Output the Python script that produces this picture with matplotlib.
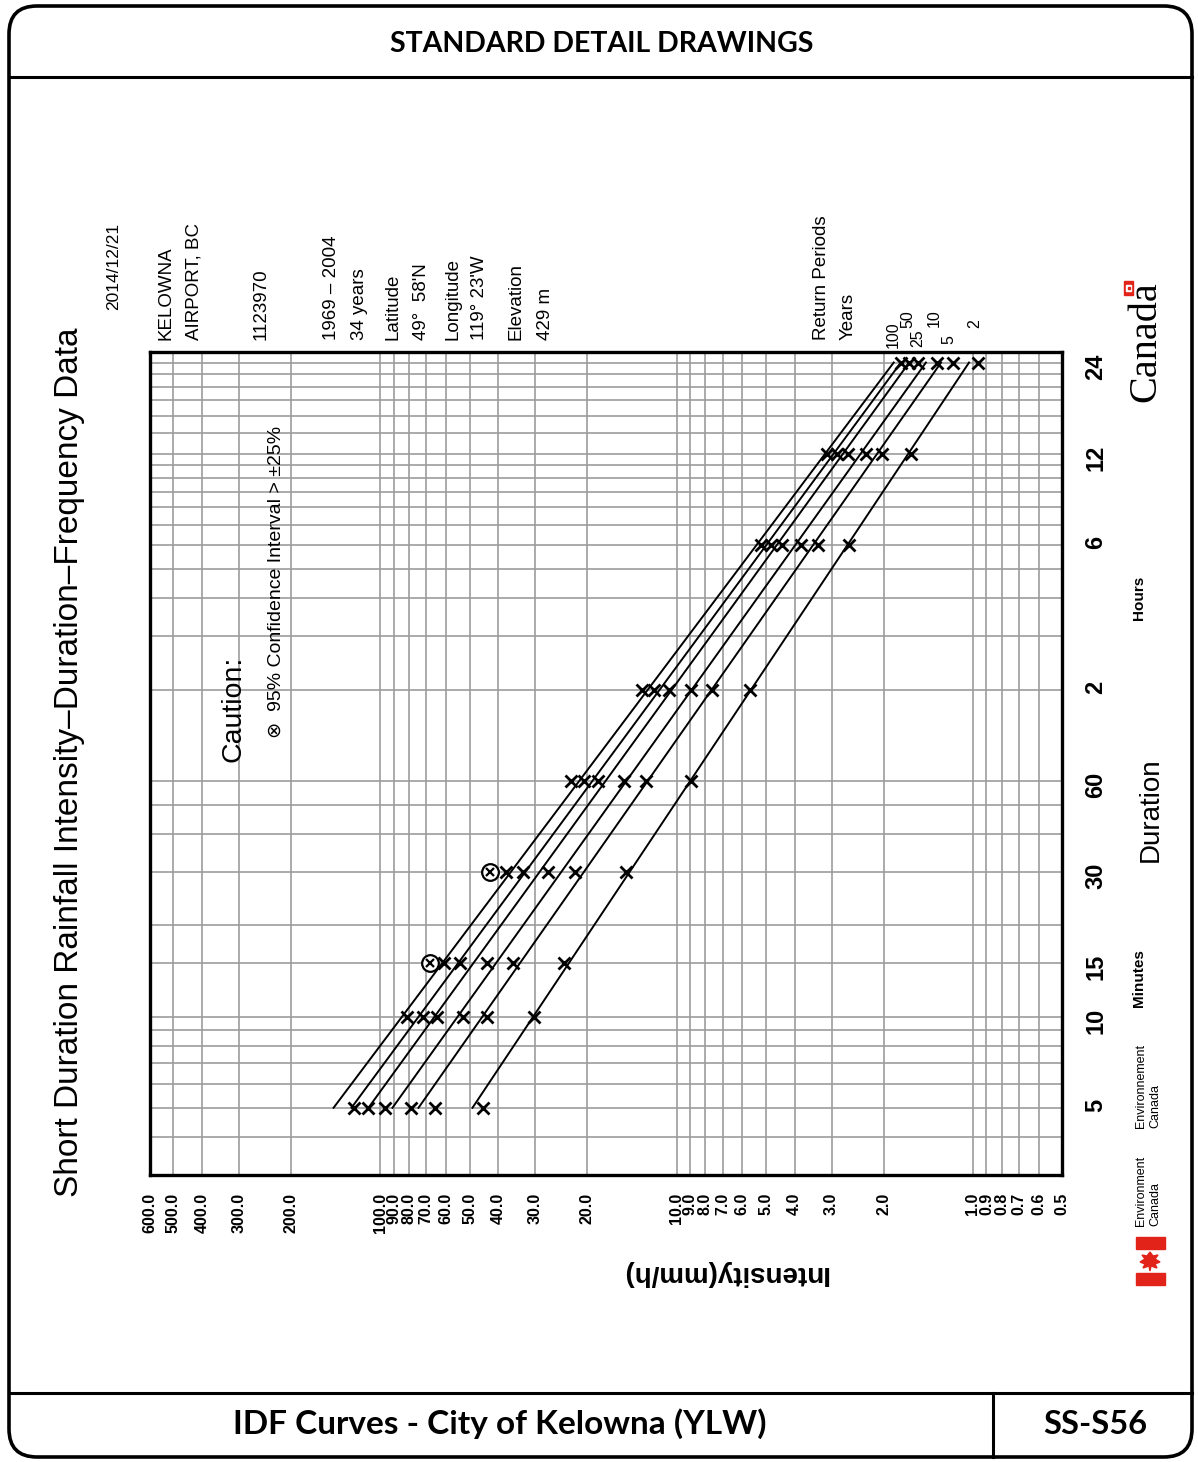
import matplotlib
matplotlib.use('Agg')
import matplotlib.pyplot as plt
from matplotlib.patches import FancyBboxPatch, Rectangle, Polygon
from matplotlib.ticker import FixedLocator, FixedFormatter, NullLocator, NullFormatter

plt.rcParams['font.family'] = ['Liberation Sans', 'DejaVu Sans']

# durations in minutes, intensities in mm/h
durations = [5, 10, 15, 30, 60, 120, 360, 720, 1440]
i_2yr = [44.9, 30.2, 24.1, 14.8, 8.97, 5.67, 2.61, 1.62, 0.96]
i_5yr = [65.7, 43.8, 35.8, 22.1, 12.7, 7.62, 3.34, 2.03, 1.17]
i_10yr = [78.6, 52.8, 43.8, 27.1, 15.1, 8.97, 3.81, 2.30, 1.32]
i_25yr = [96.2, 64.2, 53.7, 33.1, 18.4, 10.6, 4.41, 2.64, 1.53]
i_50yr = [109.8, 72.1, 60.8, 37.8, 20.6, 11.9, 4.81, 2.88, 1.64]
i_100yr = [122.4, 81.1, 68.3, 42.8, 22.8, 13.1, 5.20, 3.11, 1.75]

# fitted lines (intensity at 5 min and at 24 h), order 2,5,10,25,50,100
line_5min = [48.9, 74.4, 91.1, 109.8, 125.3, 144.0]
line_24h = [1.03, 1.28, 1.44, 1.64, 1.75, 1.85]
rp_labels = ['2', '5', '10', '25', '50', '100']

# points with 95% confidence interval > 25% (100 yr)
caution_durations = [15, 30]

intensity_ticks = [600, 500, 400, 300, 200, 100, 90, 80, 70, 60, 50, 40, 30, 20,
                   10, 9, 8, 7, 6, 5, 4, 3, 2, 1, 0.9, 0.8, 0.7, 0.6, 0.5]
duration_major = [5, 10, 15, 30, 60, 120, 360, 720, 1440]
duration_labels = ['5', '10', '15', '30', '60', '2', '6', '12', '24']
duration_minor = [4, 6, 7, 8, 9, 20, 40, 50, 180, 240, 300, 420, 480, 540, 600,
                  660, 840, 960, 1080, 1200, 1320]

W, H = 1198, 1462
fig = plt.figure(figsize=(W / 100, H / 100), dpi=100)
bg = fig.add_axes([0, 0, 1, 1])
bg.set_xlim(0, W)
bg.set_ylim(H, 0)
bg.axis('off')


def box(x0, y0, x1, y1):
    return [x0 / W, 1 - y1 / H, (x1 - x0) / W, (y1 - y0) / H]


ax = fig.add_axes(box(150, 352, 1062, 1175))
ax.set_facecolor('none')
ax.set_xscale('log')
ax.set_yscale('log')
ax.set_xlim(600, 0.5)
ax.set_ylim(3, 1560)

series = [i_2yr, i_5yr, i_10yr, i_25yr, i_50yr, i_100yr]
for vals, a, b in zip(series, line_5min, line_24h):
    ax.plot([a, b], [durations[0], durations[-1]], color='black', lw=1.4, zorder=3)
    ax.plot(vals, durations, ls='none', marker='x', ms=9, mew=2, color='black', zorder=4)
circ = [i_100yr[durations.index(d)] for d in caution_durations]
ax.plot(circ, caution_durations, ls='none', marker='o', ms=12, mfc='white',
        mec='black', mew=1.6, zorder=5)
ax.plot(circ, caution_durations, ls='none', marker='x', ms=6, mew=1.6,
        color='black', zorder=6)

ax.xaxis.set_major_locator(FixedLocator(intensity_ticks))
ax.xaxis.set_major_formatter(FixedFormatter([f'{v:.1f}' for v in intensity_ticks]))
ax.xaxis.set_minor_locator(NullLocator())
ax.yaxis.set_major_locator(FixedLocator(duration_major))
ax.yaxis.set_major_formatter(FixedFormatter(duration_labels))
ax.yaxis.set_minor_locator(FixedLocator(duration_minor))
ax.yaxis.set_minor_formatter(NullFormatter())
ax.yaxis.tick_right()
ax.tick_params(axis='both', which='both', length=0)
ax.tick_params(axis='x', pad=13, labelsize=11.5, labelrotation=90)
ax.tick_params(axis='y', pad=16, labelsize=17, labelrotation=90)
for lab in ax.get_xticklabels() + ax.get_yticklabels():
    lab.set_fontweight('bold')
ax.grid(True, which='both', color='#9c9c9c', lw=1.2)
ax.set_axisbelow(True)
for s in ax.spines.values():
    s.set_linewidth(2.4)

# caution note sits on top of the grid
ax.text(233, 762, 'Caution:', rotation=90, ha='center', va='bottom', fontsize=20.5,
        transform=bg.transData, zorder=7)
ax.text(276, 738, '\u2297  95% Confidence Interval > \u00b125%', rotation=90,
        ha='center', va='bottom', fontsize=14, transform=bg.transData, zorder=7)

# frame of the drawing sheet
bg.add_patch(FancyBboxPatch((9, 6), 1183, 1451, boxstyle='round,pad=0,rounding_size=28',
                            fill=False, lw=2.6, ec='black'))
bg.plot([9, 1192], [77, 77], color='black', lw=2.2)
bg.plot([9, 1192], [1393, 1393], color='black', lw=2.2)
bg.plot([993, 993], [1393, 1457], color='black', lw=2.2)
bg.text(602, 44, 'STANDARD DETAIL DRAWINGS', ha='center', va='center',
        fontsize=20.5, fontweight='bold', family='Lato')
bg.text(500, 1424, 'IDF Curves - City of Kelowna (YLW)', ha='center', va='center',
        fontsize=24, fontweight='bold', family='Lato')
bg.text(1095, 1424, 'SS-S56', ha='center', va='center',
        fontsize=23.5, fontweight='bold', family='Lato')

# rotated texts
bg.text(70, 762, 'Short Duration Rainfall Intensity\u2013Duration\u2013Frequency Data',
        rotation=90, ha='center', va='center', fontsize=24)
bg.text(114, 310, '2014/12/21', rotation=90, ha='center', va='bottom', fontsize=12.5)
left_block = [(166, 'KELOWNA'), (194, 'AIRPORT, BC'), (261, '1123970'),
              (331, '1969 \u2013 2004'), (359, '34 years'), (393, 'Latitude'),
              (421, '49\u00b0  58\'N'), (453, 'Longitude'), (480, '119\u00b0 23\'W'),
              (516, 'Elevation'), (545, '429 m'),
              (822, 'Return Periods'), (848, 'Years')]
for x, s in left_block:
    bg.text(x, 340, s, rotation=90, ha='center', va='bottom', fontsize=13.5)

rp_pos = [(975, 328), (949, 344), (934, 327), (918, 347), (908, 328), (893, 348)]
for (x, y), s in zip(rp_pos, rp_labels):
    bg.text(x, y, s, rotation=90, ha='center', va='bottom', fontsize=11.5)

bg.text(725, 1273, 'Intensity(mm/h)', rotation=180, ha='center', va='center',
        fontsize=20, fontweight='bold')
bg.text(1151, 810, 'Duration', rotation=90, ha='center', va='center', fontsize=20)
bg.text(1139, 598, 'Hours', rotation=90, ha='center', va='center', fontsize=11,
        fontweight='bold')
bg.text(1139, 978, 'Minutes', rotation=90, ha='center', va='center', fontsize=11,
        fontweight='bold')

# Canada wordmark
bg.text(1146, 402, 'Canada', rotation=90, ha='center', va='bottom', fontsize=29,
        family='Liberation Serif')
bg.add_patch(Rectangle((1124, 281), 9, 14, color='#e2231a'))
bg.add_patch(Rectangle((1126, 285), 5, 6, color='white'))
bg.add_patch(Rectangle((1127.5, 287), 2, 2, color='#e2231a'))

# Environment Canada signature
bg.text(1141, 1226, 'Environment', rotation=90, ha='center', va='bottom', fontsize=9)
bg.text(1155, 1226, 'Canada', rotation=90, ha='center', va='bottom', fontsize=9)
bg.text(1141, 1128, 'Environnement', rotation=90, ha='center', va='bottom', fontsize=9)
bg.text(1155, 1128, 'Canada', rotation=90, ha='center', va='bottom', fontsize=9)
bg.add_patch(Rectangle((1136, 1237), 29, 12, color='#e2231a'))
bg.add_patch(Rectangle((1136, 1273), 29, 12, color='#e2231a'))
leaf = [(1150, 1252), (1153, 1256), (1158, 1255), (1155, 1259), (1160, 1262),
        (1155, 1264), (1157, 1268), (1151, 1266), (1150, 1271), (1149, 1266),
        (1143, 1268), (1145, 1264), (1140, 1262), (1145, 1259), (1142, 1255),
        (1147, 1256)]
bg.add_patch(Polygon(leaf, closed=True, color='#e2231a'))

fig.savefig('out.png', dpi=100)
